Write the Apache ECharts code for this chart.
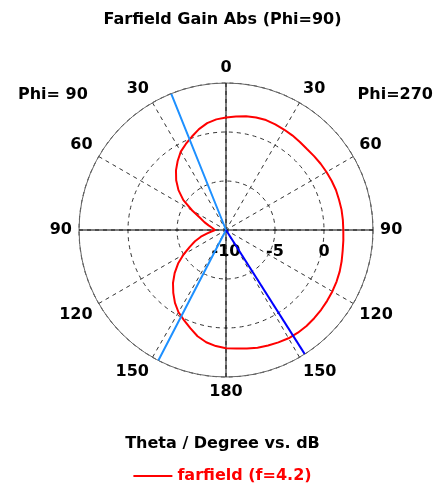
<!DOCTYPE html>
<html>
<head>
<meta charset="utf-8">
<title>Farfield Gain Abs</title>
<script src="https://cdn.jsdelivr.net/npm/echarts@6.0.0/dist/echarts.min.js"></script>
<style>
  html, body { margin: 0; padding: 0; background: #fff; }
  #farfield { width: 445px; height: 487px; }
</style>
</head>
<body>
<div id="farfield"></div>
<script>
// theta in degrees, gain in dB
var thetaDeg = [0, 5, 10, 15, 20, 25, 30, 35, 40, 45, 50, 55, 60, 65, 70, 75, 80, 85, 90,
  95, 100, 105, 110, 115, 120, 125, 130, 135, 140, 145, 150, 155, 160, 165, 170, 175, 180];
// right half of the plot (Phi=270)
var gainPhi270 = [1.48, 1.63, 1.79, 1.89, 1.94, 1.89, 1.84, 1.79, 1.73, 1.68, 1.73, 1.79, 1.84, 1.89, 1.94, 1.94, 1.97, 1.97, 1.97,
  2.02, 2.09, 2.22, 2.35, 2.45, 2.53, 2.6, 2.67, 2.73, 2.78, 2.79, 2.76, 2.65, 2.55, 2.43, 2.28, 2.14, 2.07];
// left half of the plot (Phi=90)
var gainPhi90 = [1.48, 1.33, 1.07, 0.66, 0.15, -0.31, -0.77, -1.4, -2.06, -2.81, -3.67, -4.69, -6.02, -7.1, -7.65, -8.16, -8.52, -8.78, -8.88,
  -8.57, -8.06, -7.35, -6.63, -5.92, -5.0, -4.03, -3.16, -2.35, -1.63, -0.92, -0.31, 0.15, 0.66, 1.22, 1.63, 1.89, 2.07];
var mainLobeTheta = 147.6;          // Phi=270 side
var beamwidthTheta = [21.9, 152.6]; // Phi=90 side
var radiusTicks = [-10, -5, 0, 5];

// angle axis starts at the right (east) so the radius labels sit on the horizontal ray
function rightAngle(t) { return ((t - 90) + 360) % 360; }
function leftAngle(t) { return ((270 - t) + 360) % 360; }

var curve = [];
for (var i = 0; i < thetaDeg.length; i++) {
  curve.push([gainPhi270[i], rightAngle(thetaDeg[i])]);
}
for (var j = thetaDeg.length - 1; j >= 0; j--) {
  curve.push([gainPhi90[j], leftAngle(thetaDeg[j])]);
}

var rMin = radiusTicks[0], rMax = radiusTicks[radiusTicks.length - 1];
var lightBlue = [
  [rMax, leftAngle(beamwidthTheta[0])],
  [rMin, leftAngle(beamwidthTheta[0])],
  [rMax, leftAngle(beamwidthTheta[1])]
];
var darkBlue = [
  [rMin, rightAngle(mainLobeTheta)],
  [rMax, rightAngle(mainLobeTheta)]
];

var font = 'DejaVu Sans';
var myChart = echarts.init(document.getElementById('farfield'));
var option = {
  animation: false,
  backgroundColor: '#fff',
  textStyle: { fontFamily: font },
  title: [
    { text: 'Farfield Gain Abs (Phi=90)', left: 'center', top: 7,
      textStyle: { fontFamily: font, fontSize: 16, fontWeight: 'bold', color: '#000' } },
    { text: 'Phi= 90', left: 13, top: 82,
      textStyle: { fontFamily: font, fontSize: 16, fontWeight: 'bold', color: '#000' } },
    { text: 'Phi=270', right: 7, top: 82,
      textStyle: { fontFamily: font, fontSize: 16, fontWeight: 'bold', color: '#000' } },
    { text: 'Theta / Degree vs. dB', left: 'center', top: 431,
      textStyle: { fontFamily: font, fontSize: 16, fontWeight: 'bold', color: '#000' } }
  ],
  legend: {
    data: ['farfield (f=4.2)'],
    top: 463,
    left: 'center',
    icon: 'rect',
    itemWidth: 39,
    itemHeight: 2,
    textStyle: { fontFamily: font, fontSize: 16, fontWeight: 'bold', color: '#ff0000' }
  },
  polar: [
    { center: [226, 230], radius: 147 },
    { center: [226, 230], radius: 147 }
  ],
  angleAxis: [
    {
      polarIndex: 0,
      type: 'value',
      min: 0,
      max: 360,
      interval: 30,
      startAngle: 0,
      clockwise: true,
      axisLine: { lineStyle: { color: '#666', width: 1 } },
      axisTick: { show: false },
      axisLabel: {
        margin: 7,
        fontFamily: font,
        fontSize: 16,
        fontWeight: 'bold',
        color: '#000',
        formatter: function (v) {
          var d = (v + 90) % 360;
          return String(d <= 180 ? d : 360 - d);
        }
      },
      splitLine: { lineStyle: { color: '#333', width: 1, type: [4, 4] } }
    },
    {
      polarIndex: 1,
      type: 'value',
      min: 0,
      max: 360,
      interval: 90,
      startAngle: 0,
      z: 3,
      axisLine: { show: false },
      axisTick: { show: false },
      axisLabel: { show: false },
      splitLine: { lineStyle: { color: '#000', width: 1, type: 'solid' } }
    }
  ],
  radiusAxis: [
    {
      polarIndex: 0,
      type: 'value',
      min: rMin,
      max: rMax,
      interval: 5,
      axisLine: { show: false },
      axisTick: { show: false },
      axisLabel: {
        margin: -14,
        verticalAlign: 'top',
        fontFamily: font,
        fontSize: 16,
        fontWeight: 'bold',
        color: '#000',
        showMaxLabel: false
      },
      splitLine: { lineStyle: { color: '#333', width: 1, type: [4, 4] } }
    },
    {
      polarIndex: 1,
      type: 'value',
      min: rMin,
      max: rMax,
      axisLine: { show: false },
      axisTick: { show: false },
      axisLabel: { show: false },
      splitLine: { show: false }
    }
  ],
  series: [
    {
      name: 'farfield (f=4.2)',
      type: 'line',
      coordinateSystem: 'polar',
      polarIndex: 0,
      data: curve,
      showSymbol: false,
      z: 5,
      color: '#ff0000',
      lineStyle: { color: '#ff0000', width: 2 }
    },
    {
      name: 'beamwidth',
      type: 'line',
      coordinateSystem: 'polar',
      polarIndex: 0,
      data: lightBlue,
      showSymbol: false,
      z: 6,
      lineStyle: { color: '#1e90ff', width: 2 }
    },
    {
      name: 'main lobe',
      type: 'line',
      coordinateSystem: 'polar',
      polarIndex: 0,
      data: darkBlue,
      showSymbol: false,
      z: 6,
      lineStyle: { color: '#0000ff', width: 2 }
    }
  ]
};
option && myChart.setOption(option);
</script>
</body>
</html>
